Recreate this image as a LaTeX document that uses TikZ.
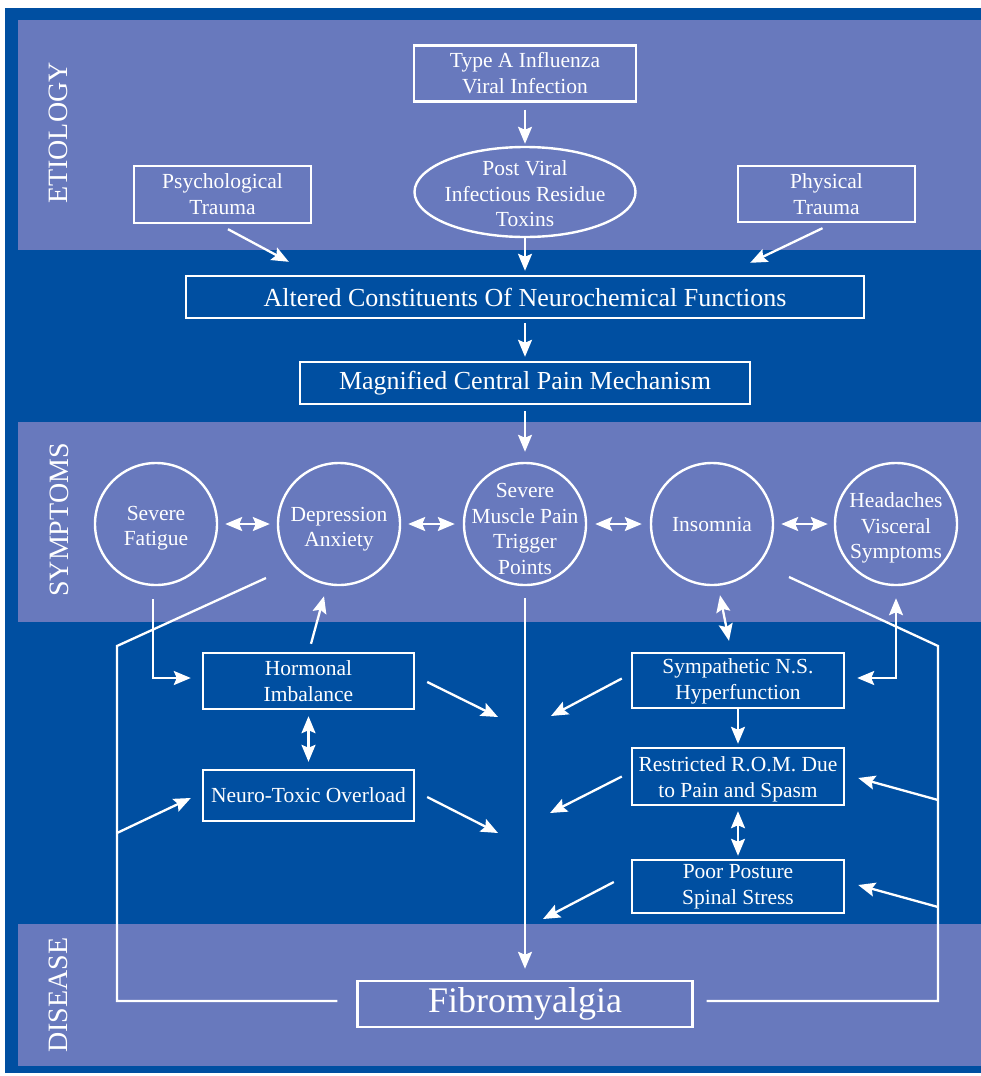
\documentclass[tikz,border=0pt]{standalone}
\usepackage{fontspec}
\setmainfont{Liberation Serif}
\usetikzlibrary{arrows.meta,shapes.geometric,calc}
\definecolor{deepblue}{RGB}{0,79,161}
\definecolor{bandblue}{RGB}{104,121,189}
\begin{document}
\begin{tikzpicture}[x=1pt,y=-1pt,
  box/.style={draw=white, line width=2.4pt, text=white, inner sep=0pt, align=center, font=\fontsize{21.5}{26}\selectfont},
  circ/.style={draw=white, line width=2.4pt, circle, inner sep=0pt, minimum size=122pt},
  lbl/.style={text=white, align=center, inner sep=0pt, font=\fontsize{21.5}{25.5}\selectfont},
  tip/.tip={Stealth[length=17pt,width=14pt,inset=3pt]},
  arr/.style={draw=white, line width=2.3pt, -tip},
  darr/.style={draw=white, line width=2.3pt, tip-tip},
  ln/.style={draw=white, line width=2.3pt},
  seclabel/.style={text=white, rotate=90, inner sep=0pt, font=\fontsize{28}{30}\selectfont}]
\useasboundingbox (0,0) rectangle (981,1076);
\fill[white] (0,0) rectangle (981,1076);
\fill[deepblue] (5,8) rectangle (981,1073);
\fill[bandblue] (18,20) rectangle (981,250);
\fill[bandblue] (18,422) rectangle (981,622);
\fill[bandblue] (18,924) rectangle (981,1066);

\node[seclabel] (etio) at (58,133) {ETIOLOGY};
\node[seclabel] (symlab) at (59,520) {SYMPTOMS};
\node[seclabel] (dislab) at (58,995) {DISEASE};

% nodes
\node[box, minimum width=222pt, minimum height=56pt] (typea) at (525,73.5) {Type A Influenza\\Viral Infection};
\node[draw=white, line width=2.4pt, ellipse, inner sep=0pt, minimum width=221pt, minimum height=90pt,
      label={[lbl, yshift=-2pt]center:{Post Viral\\Infectious Residue\\Toxins}}] (post) at (525,192) {};
\node[box, minimum width=177pt, minimum height=57pt] (psych) at (222.5,194.5) {Psychological\\Trauma};
\node[box, minimum width=177pt, minimum height=56pt] (phys) at (826.5,194) {Physical\\Trauma};
\node[box, minimum width=678pt, minimum height=42pt, font=\fontsize{26}{30}\selectfont] (alt) at (525,297) {Altered Constituents Of Neurochemical Functions};
\node[box, minimum width=450pt, minimum height=42pt, font=\fontsize{26}{30}\selectfont] (mag) at (525,383) {Magnified Central Pain Mechanism};

\node[circ, label={[lbl, yshift=-4pt]center:{Severe\\Fatigue}}] (fat) at (156,524) {};
\node[circ, label={[lbl, yshift=-5pt]center:{Depression\\Anxiety}}] (dep) at (339,524) {};
\node[circ, label={[lbl, yshift=-5pt]center:{Severe\\Muscle Pain\\Trigger\\Points}}] (mus) at (525,524) {};
\node[circ, label={[lbl]center:{Insomnia}}] (ins) at (712,524) {};
\node[circ, label={[lbl, yshift=-4pt]center:{Headaches\\Visceral\\Symptoms}}] (head) at (896,524) {};

\node[box, minimum width=211pt, minimum height=56pt] (horm) at (308.5,681) {Hormonal\\Imbalance};
\node[box, minimum width=211pt, minimum height=51pt] (neuro) at (308.5,795.5) {Neuro-Toxic Overload};
\node[box, minimum width=212pt, minimum height=55pt, label={[lbl, yshift=-1pt]center:{Sympathetic N.S.\\Hyperfunction}}] (symp) at (738,680.5) {};
\node[box, minimum width=212pt, minimum height=57pt, label={[lbl, yshift=-3pt]center:{Restricted R.O.M. Due\\to Pain and Spasm}}] (restr) at (738,776.5) {};
\node[box, minimum width=212pt, minimum height=53pt] (poor) at (738,886.5) {Poor Posture\\Spinal Stress};
\node[box, minimum width=335pt, minimum height=46pt, font=\fontsize{36}{40}\selectfont] (fib) at (525,1004) {Fibromyalgia};

% free-end coordinates
\coordinate (c1) at (498,717);
\coordinate (c2) at (498,833);
\coordinate (c3) at (551,716);
\coordinate (c4) at (550,813);
\coordinate (c5) at (543,919);
\coordinate (lt) at (117,646);
\coordinate (lm) at (117,833);
\coordinate (lb) at (117,1001);
\coordinate (rt) at (938,646);
\coordinate (rm1) at (938,800);
\coordinate (rm2) at (938,907);
\coordinate (rb) at (938,1001);

% connectors
\draw[arr, shorten <=7pt, shorten >=2pt] (typea) -- (post);
\draw[arr, shorten >=4pt] (post) -- (alt);
\draw[arr] ($(psych.south)+(5.5,5)$) -- ($(alt.north west)+(104,-13)$);
\draw[arr] ($(phys.south)+(-4,5)$) -- ($(alt.north east)+(-115,-12)$);
\draw[arr, shorten <=4pt, shorten >=4pt] (alt) -- (mag);
\draw[arr, shorten <=6pt, shorten >=10pt] (mag) -- (mus);

\draw[darr, shorten <=7pt, shorten >=7pt] (fat) -- (dep);
\draw[darr, shorten <=7pt, shorten >=8pt] (dep) -- (mus);
\draw[darr, shorten <=8pt, shorten >=8pt] (mus) -- (ins);
\draw[darr, shorten <=7pt, shorten >=6pt] (ins) -- (head);

\draw[arr, shorten <=12pt, shorten >=11pt] (mus) -- (fib);

\draw[arr] ($(fat.south)+(-3,13)$) |- ($(horm.west)+(-11,-3)$);
\draw[arr] ($(horm.north)+(2.5,-8)$) -- ($(dep.south)+(-15,10)$);
\draw[darr, shorten <=6pt, shorten >=7pt] (horm) -- (neuro);
\draw[arr] ($(horm.east)+(12,1)$) -- (c1);
\draw[arr] ($(neuro.east)+(12,1.5)$) -- (c2);

\draw[darr] ($(ins.south)+(8,9)$) -- ($(symp.north)+(-9,-11)$);
\draw[arr, shorten >=3pt] (symp) -- (restr);
\draw[darr, shorten <=5pt, shorten >=3pt] (restr) -- (poor);
\draw[darr] ($(head.south)+(0,12)$) |- ($(symp.east)+(12,-2.5)$);
\draw[arr] ($(symp.west)+(-9,-2)$) -- (c3);
\draw[arr] ($(restr.west)+(-9,0)$) -- (c4);
\draw[arr] ($(poor.west)+(-17,-4.5)$) -- (c5);

% loops
\draw[ln] ($(dep.center)+(-73,54)$) -- (lt) -- (lb) -- ($(fib.west)+(-19,-3)$);
\draw[arr] (lm) -- ($(neuro.west)+(-11,2.5)$);
\draw[ln] ($(ins.center)+(77,53)$) -- (rt) -- (rb) -- ($(fib.east)+(13,-3)$);
\draw[arr] (rm1) -- ($(restr.east)+(13,1.5)$);
\draw[arr] (rm2) -- ($(poor.east)+(13,-1.5)$);
\end{tikzpicture}
\end{document}
